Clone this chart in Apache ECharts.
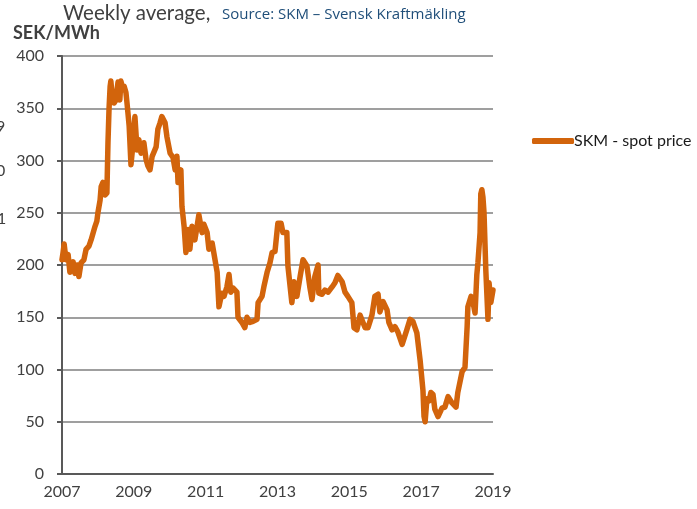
<!DOCTYPE html>
<html>
<head>
<meta charset="utf-8">
<style>
  html, body { margin: 0; padding: 0; background: #ffffff; }
  #chart { width: 697px; height: 509px; }
</style>
<script src="https://cdn.jsdelivr.net/npm/echarts@6/dist/echarts.min.js"></script>
</head>
<body>
<div id="chart"></div>
<script>
// Weekly average spot price, SEK/MWh. Time is given in years since the start of 2007.
const baseYear = 2007;
const yearTicks = ['2007', '2009', '2011', '2013', '2015', '2017', '2019'];
const valueTicks = [0, 50, 100, 150, 200, 250, 300, 350, 400];
const seriesName = 'SKM - spot price';

const weekOffsets = [
  0.00, 0.03, 0.06, 0.11, 0.17, 0.22, 0.31, 0.36, 0.42, 0.47,
  0.53, 0.61, 0.67, 0.75, 0.81, 0.86, 0.92, 0.97, 1.00, 1.06,
  1.09, 1.14, 1.17, 1.20, 1.25, 1.28, 1.31, 1.34, 1.36, 1.39,
  1.45, 1.50, 1.56, 1.61, 1.64, 1.67, 1.73, 1.78, 1.81, 1.87,
  1.92, 1.98, 2.03, 2.09, 2.14, 2.20, 2.28, 2.34, 2.39, 2.45,
  2.51, 2.56, 2.62, 2.67, 2.73, 2.78, 2.87, 2.92, 3.01, 3.09,
  3.15, 3.20, 3.23, 3.31, 3.34, 3.40, 3.45, 3.51, 3.56, 3.62,
  3.70, 3.76, 3.81, 3.90, 3.95, 4.04, 4.09, 4.18, 4.26, 4.32,
  4.37, 4.45, 4.51, 4.59, 4.65, 4.70, 4.76, 4.87, 4.90, 5.01,
  5.09, 5.15, 5.23, 5.32, 5.43, 5.46, 5.57, 5.62, 5.71, 5.73,
  5.79, 5.85, 5.93, 6.01, 6.10, 6.15, 6.26, 6.29, 6.40, 6.46,
  6.54, 6.63, 6.71, 6.82, 6.90, 6.96, 7.04, 7.13, 7.15, 7.24,
  7.32, 7.41, 7.52, 7.60, 7.68, 7.80, 7.88, 7.96, 8.07, 8.13,
  8.21, 8.30, 8.38, 8.44, 8.52, 8.63, 8.71, 8.80, 8.85, 8.94,
  9.05, 9.10, 9.19, 9.27, 9.35, 9.47, 9.52, 9.60, 9.69, 9.77,
  9.88, 9.97, 10.05, 10.08, 10.11, 10.16, 10.22, 10.27, 10.33, 10.38,
  10.47, 10.58, 10.66, 10.75, 10.86, 10.97, 11.02, 11.14, 11.22, 11.28,
  11.30, 11.39, 11.44, 11.50, 11.55, 11.58, 11.64, 11.66, 11.69, 11.72,
  11.75, 11.80, 11.86, 11.89, 11.94, 12.00
];

const spotPrices = [
  205, 212, 220, 205, 210, 193, 203, 192, 200, 189,
  202, 205, 215, 218, 224, 230, 237, 242, 250, 262,
  275, 279, 272, 267, 269, 317, 350, 371, 376, 365,
  355, 358, 375, 358, 376, 372, 371, 365, 355, 333,
  296, 317, 342, 310, 320, 307, 317, 301, 295, 291,
  304, 308, 313, 330, 336, 342, 336, 323, 307, 303,
  291, 304, 279, 291, 256, 237, 212, 234, 215, 237,
  224, 237, 248, 231, 239, 231, 215, 221, 205, 193,
  160, 173, 170, 179, 191, 174, 178, 174, 150, 145,
  140, 150, 145, 146, 148, 164, 170, 179, 193, 194,
  202, 212, 213, 240, 240, 231, 231, 199, 164, 184,
  170, 189, 205, 199, 179, 167, 189, 200, 173, 172,
  176, 174, 179, 183, 190, 184, 174, 170, 164, 140,
  138, 152, 145, 140, 140, 152, 170, 172, 155, 165,
  157, 145, 138, 141, 136, 124, 124, 138, 148, 146,
  135, 109, 80, 55, 50, 72, 70, 78, 76, 62,
  55, 63, 64, 74, 68, 64, 78, 98, 102, 141,
  160, 170, 165, 154, 191, 202, 231, 268, 272, 265,
  250, 195, 148, 183, 164, 176
];

const points = weekOffsets.map((t, i) => [t, spotPrices[i]]);

const textColor = '#404040';
const lineColor = '#D2640C';
const fontFamily = 'Lato, "Open Sans", sans-serif';

const chart = echarts.init(document.getElementById('chart'), null, { renderer: 'canvas' });

chart.setOption({
  animation: false,
  backgroundColor: '#ffffff',
  textStyle: { fontFamily: fontFamily },
  grid: { left: 62, right: 204, top: 56, bottom: 35, containLabel: false },
  xAxis: {
    type: 'value',
    min: 0,
    max: 12,
    interval: 2,
    axisLine: { show: true, onZero: false, lineStyle: { color: '#595959', width: 2 } },
    axisTick: { show: false },
    splitLine: { show: false },
    axisLabel: {
      color: textColor,
      fontSize: 16,
      fontFamily: fontFamily,
      margin: 10,
      formatter: v => yearTicks[Math.round(v / 2)] || String(baseYear + v)
    }
  },
  yAxis: {
    type: 'value',
    min: valueTicks[0],
    max: valueTicks[valueTicks.length - 1],
    interval: 50,
    axisLine: { show: true, lineStyle: { color: '#595959', width: 2 } },
    axisTick: { show: true, inside: false, length: 5, lineStyle: { color: '#595959', width: 2 } },
    splitLine: { show: true, lineStyle: { color: '#7f7f7f', width: 1.6 } },
    axisLabel: { color: textColor, fontSize: 16, fontFamily: fontFamily, margin: 18 }
  },
  legend: {
    show: true,
    left: 527,
    top: 128,
    itemWidth: 42,
    itemHeight: 6,
    itemGap: 4,
    icon: 'roundRect',
    textStyle: { color: '#1a1a1a', fontSize: 16, fontFamily: fontFamily, padding: [0, 0, 0, -5] },
    data: [{ name: seriesName, itemStyle: { color: lineColor } }]
  },
  graphic: [
    {
      type: 'text', left: 63, top: 3,
      style: { text: 'Weekly average,', fill: textColor, font: '20.5px ' + fontFamily }
    },
    {
      type: 'text', left: 222, top: 7,
      style: { text: 'Source: SKM \u2013 Svensk Kraftmäkling', fill: '#1F4E79', font: '15px "Open Sans", sans-serif' }
    },
    {
      type: 'text', left: 13, top: 24,
      style: { text: 'SEK/MWh', fill: textColor, font: 'bold 18px ' + fontFamily }
    },
    { type: 'text', x: -4, y: 119, style: { text: '9', fill: textColor, font: '16px ' + fontFamily } },
    { type: 'text', x: -4, y: 163, style: { text: '0', fill: textColor, font: '16px ' + fontFamily } },
    { type: 'text', x: -3, y: 211, style: { text: '1', fill: textColor, font: '16px ' + fontFamily } }
  ],
  series: [
    {
      name: seriesName,
      type: 'line',
      data: points,
      showSymbol: false,
      smooth: false,
      lineStyle: { color: lineColor, width: 5.5, join: 'round', cap: 'round' },
      itemStyle: { color: lineColor }
    }
  ]
});
</script>
</body>
</html>
